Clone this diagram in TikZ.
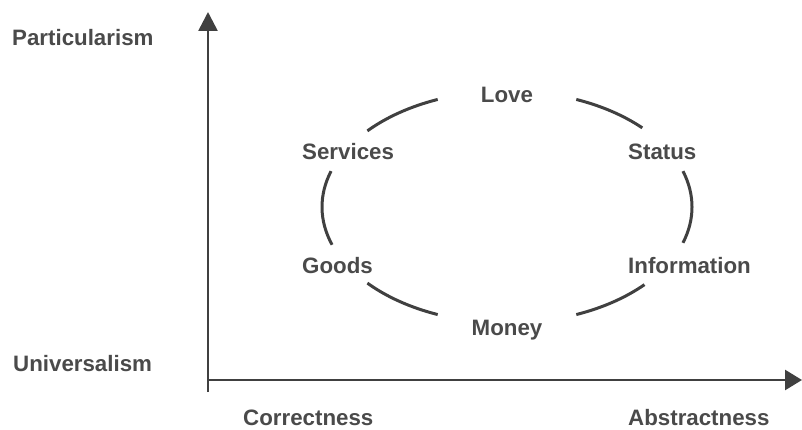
\documentclass[tikz,border=0pt]{standalone}
\usepackage{fontspec}
\setmainfont{Liberation Sans}
\usetikzlibrary{arrows.meta}
\definecolor{axisgray}{HTML}{404040}
\definecolor{textgray}{HTML}{4A4A4A}
\begin{document}
\begin{tikzpicture}[x=1pt,y=-1pt,
  lbl/.style={inner sep=0pt,text=textgray,font=\fontsize{22.3}{26}\selectfont\bfseries},
  axisline/.style={draw=axisgray,line width=2.6pt},
  ringarc/.style={draw=axisgray,line width=3pt}]
\path[use as bounding box] (0,0) rectangle (802,430);
% axes
\coordinate (o) at (208,380);
\coordinate (vbot) at (208,392);
\coordinate (vtop) at (208,12);
\coordinate (hend) at (802,380);
\draw[axisline,-{Triangle[length=19pt,width=19pt]}] (vbot) -- (vtop);
\draw[axisline,-{Triangle[length=17pt,width=20pt]}] (o) -- (hend);
% axis labels
\node[lbl,anchor=base west] (part) at (12,46) {Particularism};
\node[lbl,anchor=base west] (univ) at (13,371) {Universalism};
\node[lbl,anchor=base west] (corr) at (243,425) {Correctness};
\node[lbl,anchor=base west] (abst) at (628,425) {Abstractness};
% ring
\coordinate (c) at (507,207);
\foreach \a/\b in {68/42, 112/139, 161/198, 221/248, 292/317, -18/18}{
  \draw[ringarc] (c) ++(\a:185 and 116) arc[start angle=\a, end angle=\b, x radius=185, y radius=116];
}
% resource labels
\node[lbl,anchor=base] (love) at (507,103) {Love};
\node[lbl,anchor=base west] (serv) at (302,160) {Services};
\node[lbl,anchor=base west] (stat) at (628,160) {Status};
\node[lbl,anchor=base west] (good) at (302,273) {Goods};
\node[lbl,anchor=base west] (info) at (628,273) {Information};
\node[lbl,anchor=base] (mone) at (507,335) {Money};
\end{tikzpicture}
\end{document}
